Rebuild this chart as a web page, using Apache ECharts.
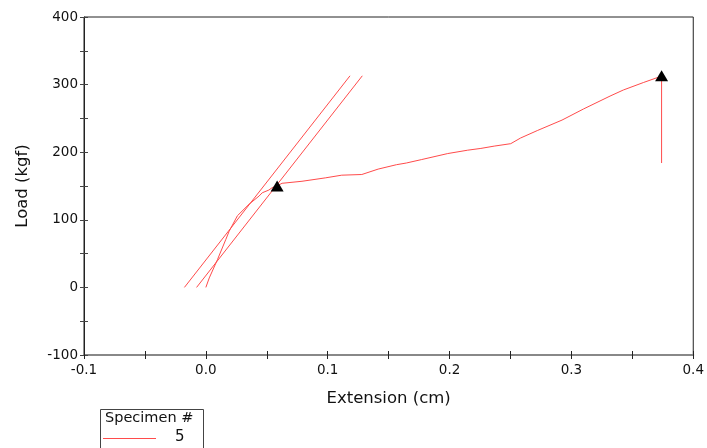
<!DOCTYPE html>
<html><head><meta charset="utf-8">
<script src="https://cdn.jsdelivr.net/npm/echarts@6/dist/echarts.min.js"></script>
<style>html,body{margin:0;padding:0;background:#fff}#c{width:707px;height:448px}</style>
</head><body><div id="c"></div>
<script>
// Main test curve (Specimen 5)
const curveX = [0.000, 0.0028, 0.0095, 0.0164, 0.0191, 0.0259, 0.0354, 0.0436, 0.0463, 0.0517, 0.0544, 0.0580, 0.0626, 0.0789, 0.0980, 0.1115, 0.1280, 0.1414, 0.1564, 0.1645, 0.1768, 0.1985, 0.2149, 0.2257, 0.2366, 0.2502, 0.2583, 0.2720, 0.2923, 0.3100, 0.3317, 0.3426, 0.3590, 0.3715, 0.3740, 0.3740];
const curveY = [0, 14, 41, 71, 83, 106, 123, 135, 140, 144, 147.5, 150, 154, 157, 162, 166, 167, 175, 181.5, 184, 189, 198, 203, 205.6, 209, 212.6, 221, 232, 247.5, 264, 283, 292, 303, 311, 313, 184];
// Modulus (slope) lines
const modAX = [-0.0176, 0.1183];
const modAY = [0, 313];
const modBX = [-0.0076, 0.1284];
const modBY = [0, 313];
// Marked points (yield and peak)
const peakX = [0.0585, 0.3740];
const peakY = [150, 313];
// Axes
const xMin = -0.1, xMax = 0.4, xStep = 0.05;
const yMin = -100, yMax = 400, yStep = 50;
const xTitle = 'Extension (cm)';
const yTitle = 'Load (kgf)';
const legendTitle = 'Specimen #';
const legendItem = '5';

const RED = '#ff4b4b';
const FONT = 'DejaVu Sans';
const zip = (a, b) => a.map((v, i) => [v, b[i]]);

function xFmt(v) {
  if (Math.abs(v * 10 - Math.round(v * 10)) > 1e-6) return '';
  if (Math.abs(v) < 1e-9) return '0.0';
  return v.toFixed(1);
}
function yFmt(v) {
  return (Math.round(v) % 100 === 0) ? String(Math.round(v)) : '';
}

const chart = echarts.init(document.getElementById('c'), null, {renderer: 'canvas'});
chart.setOption({
  animation: false,
  backgroundColor: '#fff',
  grid: {left: 84, right: 12, top: 17, bottom: 93, show: true, borderColor: '#222', borderWidth: 1, backgroundColor: 'transparent'},
  xAxis: [{
    type: 'value', min: xMin, max: xMax, interval: xStep, position: 'bottom',
    name: xTitle, nameLocation: 'middle', nameGap: 35,
    nameTextStyle: {fontFamily: FONT, fontSize: 16.5, color: '#111'},
    axisLine: {show: true, onZero: false, lineStyle: {color: '#888', width: 2}},
    axisTick: {show: true, inside: false, length: 4, lineStyle: {color: '#222'}},
    axisLabel: {formatter: xFmt, fontFamily: FONT, fontSize: 13.5, color: '#111', margin: 8, showMinLabel: true, showMaxLabel: true},
    splitLine: {show: false}
  }, {
    type: 'value', min: xMin, max: xMax, interval: xStep, position: 'bottom',
    axisLine: {show: false, onZero: false},
    axisTick: {show: true, inside: true, length: 4, lineStyle: {color: '#222'}},
    axisLabel: {show: false}, splitLine: {show: false}
  }],
  yAxis: [{
    type: 'value', min: yMin, max: yMax, interval: yStep, position: 'left',
    name: yTitle, nameLocation: 'middle', nameGap: 53,
    nameTextStyle: {fontFamily: FONT, fontSize: 16.5, color: '#111'},
    axisLine: {show: true, onZero: false, lineStyle: {color: '#222', width: 1}},
    axisTick: {show: true, inside: false, length: 4, lineStyle: {color: '#444'}},
    axisLabel: {formatter: yFmt, fontFamily: FONT, fontSize: 13.5, color: '#111', margin: 6},
    splitLine: {show: false}
  }, {
    type: 'value', min: yMin, max: yMax, interval: yStep, position: 'left',
    axisLine: {show: false, onZero: false},
    axisTick: {show: true, inside: true, length: 4, lineStyle: {color: '#444'}},
    axisLabel: {show: false}, splitLine: {show: false}
  }],
  series: [
    {type: 'line', data: zip(modAX, modAY), showSymbol: false, lineStyle: {color: RED, width: 1}, silent: true},
    {type: 'line', data: zip(modBX, modBY), showSymbol: false, lineStyle: {color: RED, width: 1}, silent: true},
    {type: 'line', data: zip(curveX, curveY), showSymbol: false, lineStyle: {color: RED, width: 1}, silent: true},
    {type: 'scatter', data: zip(peakX, peakY), symbol: 'triangle', symbolSize: [13, 11], itemStyle: {color: '#000', opacity: 1}, z: 5}
  ],
  graphic: [
    {type: 'rect', left: 100, top: 409, shape: {width: 103, height: 50}, style: {fill: '#fff', stroke: '#444', lineWidth: 1}},
    {type: 'text', left: 105, top: 411, style: {text: legendTitle, font: '14.5px "DejaVu Sans"', fill: '#111'}},
    {type: 'line', shape: {x1: 103, y1: 438.5, x2: 156, y2: 438.5}, style: {stroke: RED, lineWidth: 1}},
    {type: 'text', left: 175, top: 430, style: {text: legendItem, font: '15px "DejaVu Sans"', fill: '#111'}}
  ]
});
</script>
</body></html>
